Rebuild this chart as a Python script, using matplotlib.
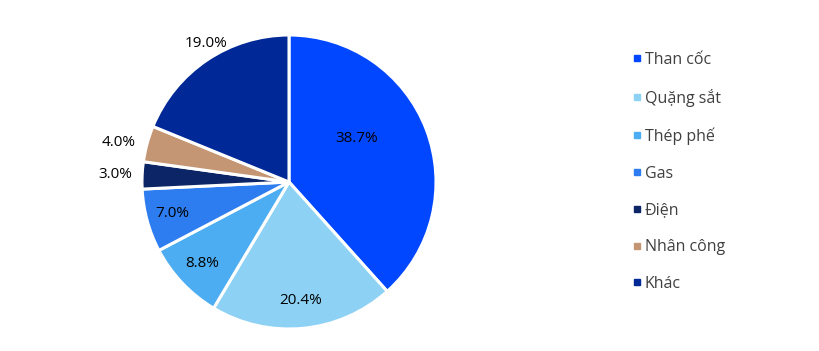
import numpy as np
import matplotlib
matplotlib.use("Agg")
import matplotlib.pyplot as plt
from matplotlib.lines import Line2D

plt.rcParams['font.family'] = ['Open Sans', 'DejaVu Sans']

categories = ['Than cốc', 'Quặng sắt', 'Thép phế', 'Gas', 'Điện', 'Nhân công', 'Khác']
shares = [38.7, 20.4, 8.8, 7.0, 3.0, 4.0, 19.0]
colors = ['#0047FF', '#8DD2F5', '#4CADF2', '#2D7DF0', '#0B2566', '#C59673', '#002896']

# label placement (fraction of radius, angle tweak in degrees)
label_dist = [0.55, 0.81, 0.81, 0.82, 1.18, 1.19, 1.10]
label_shift = [12, 0, 0, 0, 0, 2, -3]

W, H = 819, 351
fig = plt.figure(figsize=(W / 100, H / 100), dpi=100)

cx, cy, r = 289, 182, 147
ax = fig.add_axes([(cx - r) / W, (H - cy - r) / H, 2 * r / W, 2 * r / H])
wedges, _ = ax.pie(shares, colors=colors, startangle=90, counterclock=False,
                   wedgeprops=dict(edgecolor='white', linewidth=2.2))
ax.set_aspect('equal')
ax.set_xlim(-1, 1)
ax.set_ylim(-1, 1)

for w, v, d, s in zip(wedges, shares, label_dist, label_shift):
    ang = np.deg2rad((w.theta1 + w.theta2) / 2 + s)
    ax.text(d * np.cos(ang), d * np.sin(ang), f'{v:.1f}%', ha='center', va='center',
            fontsize=11, color='#000000')

handles = [Line2D([], [], marker='s', linestyle='none', markersize=4.5,
                  markerfacecolor=c, markeredgecolor=c) for c in colors]
fig.legend(handles, categories, loc='upper left', bbox_to_anchor=(624 / W, 1 - 44 / H),
           frameon=False, fontsize=11.5, labelcolor='#404040', handlelength=0.6,
           handletextpad=0.2, labelspacing=1.3, borderpad=0)

fig.savefig('out.png', dpi=100)
